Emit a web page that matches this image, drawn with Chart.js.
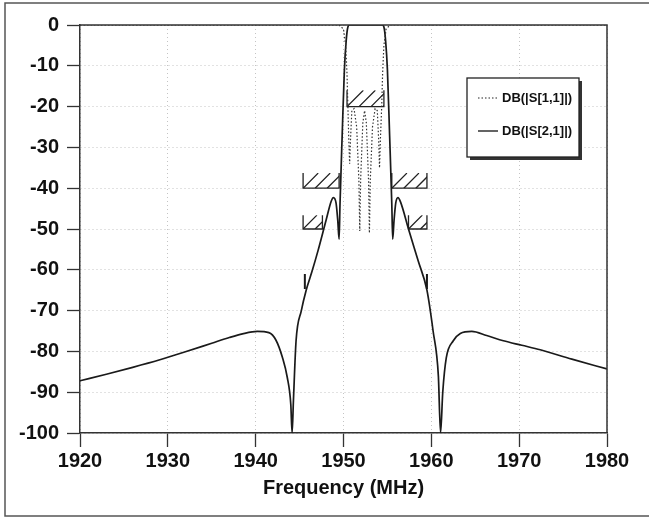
<!DOCTYPE html>
<html>
<head>
<meta charset="utf-8">
<script src="https://cdn.jsdelivr.net/npm/chart.js@4.4.1/dist/chart.umd.min.js"></script>
<style>
  html, body { margin: 0; padding: 0; background: #fff; }
  canvas { display: block; }
</style>
</head>
<body>
<canvas id="chart" width="649" height="518"></canvas>
<script>
// S21 (transmission)
const s21Freq = [1920, 1923, 1926, 1929, 1932, 1935, 1937, 1938.5, 1940.2, 1941.5, 1942.3, 1943.05, 1943.6, 1944.0, 1944.15,
  1944.3, 1944.6, 1945.2, 1945.75, 1946.4, 1947.1, 1948.0, 1948.6, 1948.85, 1949.15, 1949.35, 1949.5,
  1949.6, 1949.85, 1950.1, 1950.3, 1950.5, 1950.7, 1954.4, 1954.6, 1954.8, 1955.0, 1955.25, 1955.5, 1955.6,
  1955.75, 1955.95, 1956.2, 1956.5, 1957.4, 1958.5, 1959.5, 1960.2, 1960.8, 1961.05,
  1961.3, 1961.7, 1962.5, 1963.3, 1964.6, 1966.3, 1968.2, 1970.3, 1972.4, 1976, 1980];
const s21Db = [-87.2, -85.6, -83.9, -82.1, -80.1, -78.0, -76.6, -75.7, -75.1, -75.4, -77.2, -81.5, -86.4, -93, -100,
  -92, -77.4, -70, -65, -60.5, -55.3, -48, -43.2, -42.3, -43.6, -48, -52.5,
  -44, -27, -11, -4, -0.5, 0, 0, -0.5, -4, -11, -27, -44, -52.5,
  -48, -43.6, -42.3, -43.4, -50, -57.8, -65, -75, -86, -100,
  -90, -81.6, -77.4, -75.6, -75.1, -76.1, -77.4, -78.5, -79.6, -81.9, -84.3];

// S11 (reflection)
const s11Freq = [1920, 1949.5, 1950.0, 1950.25, 1950.4, 1950.5, 1950.6, 1950.7, 1950.8, 1950.95, 1951.2, 1951.5, 1951.75,
  1951.85, 1951.95, 1952.2, 1952.4, 1952.6, 1952.85, 1952.95, 1953.05, 1953.3, 1953.6, 1953.85, 1954.0,
  1954.1, 1954.2, 1954.35, 1954.45, 1954.6, 1954.85, 1955.3, 1980];
const s11Db = [0, 0, -1, -5, -12, -20, -28, -34, -28, -21, -20.5, -25, -38,
  -50.5, -38, -24, -21, -24, -38, -51, -38, -25, -20.5, -21, -28,
  -35, -28, -20, -12, -5, -1, 0, 0];

// spec masks: start, stop (MHz), limit and hatch top (dB)
const maskStart = [1950.4, 1945.4, 1955.5, 1945.4, 1957.4];
const maskStop = [1954.6, 1949.5, 1959.5, 1947.6, 1959.5];
const maskLimit = [-20, -40, -40, -50, -50];
const maskTop = [-16, -36.3, -36.3, -46.6, -46.6];

// small marker strokes
const markFreq = [1945.6, 1959.5];
const markHigh = [-61, -61];
const markLow = [-64.7, -64.7];

const seriesNames = ["DB(|S[1,1]|)", "DB(|S[2,1]|)"];
const xTitle = "Frequency (MHz)";

const FONT = "'Liberation Sans', Arial, sans-serif";

const toPoints = (xs, ys) => xs.map((v, i) => ({ x: v, y: ys[i] }));
const markPoints = [];
markFreq.forEach((f, i) => {
  if (i > 0) markPoints.push({ x: (markFreq[i - 1] + f) / 2, y: null });
  markPoints.push({ x: f, y: markHigh[i] }, { x: f, y: markLow[i] });
});

const maskPlugin = {
  id: "masks",
  beforeDatasetsDraw(chart) {
    const { ctx, scales: { x, y } } = chart;
    ctx.save();
    ctx.strokeStyle = "#222";
    ctx.lineWidth = 1.3;
    maskStart.forEach((f1, i) => {
      const left = x.getPixelForValue(f1);
      const right = x.getPixelForValue(maskStop[i]);
      const bottom = y.getPixelForValue(maskLimit[i]);
      const top = y.getPixelForValue(maskTop[i]);
      ctx.beginPath();
      ctx.moveTo(left, top);
      ctx.lineTo(left, bottom);
      ctx.lineTo(right, bottom);
      ctx.lineTo(right, top);
      ctx.stroke();
      ctx.save();
      ctx.beginPath();
      ctx.rect(left, top, right - left, bottom - top);
      ctx.clip();
      const h = bottom - top;
      ctx.beginPath();
      for (let sx = left; sx < right; sx += 12) {
        ctx.moveTo(sx, bottom);
        ctx.lineTo(sx + h, top);
      }
      ctx.stroke();
      ctx.restore();
    });
    ctx.restore();
  }
};

const framePlugin = {
  id: "frame",
  afterDraw(chart) {
    const { ctx, chartArea: a } = chart;
    ctx.save();
    ctx.strokeStyle = "#333";
    ctx.lineWidth = 1.5;
    ctx.beginPath();
    ctx.moveTo(a.left, a.top);
    ctx.lineTo(a.right, a.top);
    ctx.lineTo(a.right, a.bottom);
    ctx.stroke();
    // outer picture frame
    ctx.strokeStyle = "#555";
    ctx.lineWidth = 1.5;
    ctx.strokeRect(5, 3, 660, 513);
    ctx.restore();
  }
};

const legendPlugin = {
  id: "boxLegend",
  afterDatasetsDraw(chart) {
    const { ctx } = chart;
    const bx = 467, by = 78, bw = 112, bh = 79;
    ctx.save();
    ctx.fillStyle = "#333";
    ctx.fillRect(bx + 3, by + 3, bw, bh);
    ctx.fillStyle = "#fff";
    ctx.fillRect(bx, by, bw, bh);
    ctx.strokeStyle = "#222";
    ctx.lineWidth = 1.3;
    ctx.strokeRect(bx, by, bw, bh);
    ctx.font = "bold 13px " + FONT;
    ctx.fillStyle = "#111";
    ctx.textBaseline = "middle";
    const rows = [by + 20, by + 53];
    seriesNames.forEach((name, i) => {
      ctx.beginPath();
      ctx.strokeStyle = "#222";
      ctx.lineWidth = i === 0 ? 1 : 1.4;
      ctx.setLineDash(i === 0 ? [1.5, 2] : []);
      ctx.moveTo(bx + 11, rows[i]);
      ctx.lineTo(bx + 31, rows[i]);
      ctx.stroke();
      ctx.setLineDash([]);
      ctx.fillText(name, bx + 35, rows[i]);
    });
    ctx.restore();
  }
};

new Chart(document.getElementById("chart"), {
  type: "line",
  data: {
    datasets: [
      {
        label: seriesNames[0],
        data: toPoints(s11Freq, s11Db),
        borderColor: "#333",
        borderWidth: 1.2,
        borderDash: [1.5, 2],
        pointRadius: 0,
        tension: 0
      },
      {
        label: seriesNames[1],
        data: toPoints(s21Freq, s21Db),
        borderColor: "#1a1a1a",
        borderWidth: 1.7,
        pointRadius: 0,
        cubicInterpolationMode: "monotone"
      },
      {
        label: "marks",
        data: markPoints,
        borderColor: "#1a1a1a",
        borderWidth: 2,
        pointRadius: 0,
        spanGaps: false
      }
    ]
  },
  options: {
    responsive: false,
    animation: false,
    layout: { padding: { top: 25, right: 42, left: 0, bottom: 0 } },
    plugins: {
      legend: { display: false },
      tooltip: { enabled: false }
    },
    scales: {
      x: {
        type: "linear",
        min: 1920,
        max: 1980,
        ticks: {
          stepSize: 10,
          color: "#111",
          font: { family: FONT, size: 20, weight: "bold" },
          padding: 2,
          maxRotation: 0,
          callback: (v) => String(v)
        },
        grid: {
          color: "#c4c4c4",
          tickColor: "#333",
          tickWidth: 1.3,
          tickLength: 14
        },
        border: { color: "#333", width: 1.5, dash: [1, 3] },
        title: {
          display: true,
          text: xTitle,
          color: "#111",
          font: { family: FONT, size: 20, weight: "bold" },
          padding: { top: 0, bottom: 18 }
        },
        afterFit(scale) { scale.height = 85; }
      },
      y: {
        min: -100,
        max: 0,
        ticks: {
          stepSize: 10,
          color: "#111",
          font: { family: FONT, size: 20, weight: "bold" },
          padding: 8
        },
        grid: {
          color: "#c4c4c4",
          tickColor: "#333",
          tickWidth: 1.3,
          tickLength: 13
        },
        border: { color: "#333", width: 1.5, dash: [1, 3] },
        afterFit(scale) { scale.width = 80; }
      }
    }
  },
  plugins: [maskPlugin, legendPlugin, framePlugin]
});
</script>
</body>
</html>
